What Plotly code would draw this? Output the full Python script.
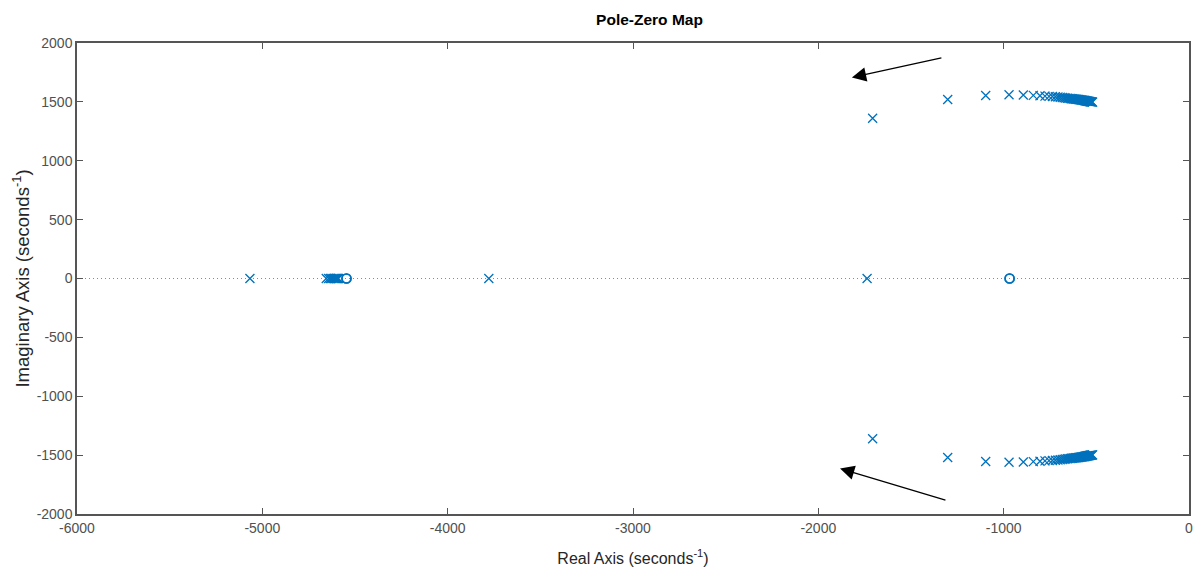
import plotly.graph_objects as go

# Poles (upper half-plane branch; lower branch is the conjugate)
pole_branch_re = [-1707, -1302, -1097, -971, -894, -840, -804, -777, -755, -737,
                  -721, -707, -695, -684, -674, -665, -656, -648, -641, -634,
                  -628, -622, -616, -611, -606, -601, -596, -592, -588, -584,
                  -580, -576, -572, -568, -565, -562, -559, -556, -553, -550,
                  -547, -544, -541, -538, -535, -532, -529, -526, -523, -520]
pole_branch_im = [1361, 1520, 1554, 1560, 1558, 1555, 1552, 1549, 1547, 1545,
                  1543, 1541, 1539, 1537, 1535, 1533, 1531, 1530, 1528, 1527,
                  1526, 1525, 1524, 1523, 1522, 1521, 1520, 1519, 1518, 1517,
                  1516, 1515, 1514, 1513, 1512, 1511, 1510, 1509, 1508, 1507,
                  1506, 1505, 1504, 1503, 1502, 1501, 1500, 1500, 1499, 1498]
# Real-axis poles
pole_real = [-5067, -4655, -4642, -4633, -4625, -4618, -4612, -4606, -4601,
             -4597, -4593, -4589, -3778, -1737]
# Zeros
zero_re = [-4546, -4546, -968, -968]
zero_im = [0, 0, 0, 0]

x_ticks = [-6000, -5000, -4000, -3000, -2000, -1000, 0]
x_ticklabels = ["-6000", "-5000", "-4000", "-3000", "-2000", "-1000", "0"]
y_ticks = [-2000, -1500, -1000, -500, 0, 500, 1000, 1500, 2000]
y_ticklabels = ["-2000", "-1500", "-1000", "-500", "0", "500", "1000", "1500", "2000"]

blue = "#0072BD"

poles_x = pole_branch_re + pole_branch_re + pole_real
poles_y = pole_branch_im + [-v for v in pole_branch_im] + [0] * len(pole_real)

fig = go.Figure()
# dotted real-axis line
fig.add_trace(go.Scatter(x=[x_ticks[0], x_ticks[-1]], y=[0, 0], mode="lines",
                         line=dict(color="#8a8a8a", width=1, dash="1px,3px"),
                         hoverinfo="skip", showlegend=False))
fig.add_trace(go.Scatter(x=poles_x, y=poles_y, mode="markers",
                         marker=dict(symbol="x-thin-open", size=9,
                                     line=dict(color=blue, width=1.3), color=blue),
                         showlegend=False))
fig.add_trace(go.Scatter(x=zero_re, y=zero_im, mode="markers",
                         marker=dict(symbol="circle-open", size=9,
                                     line=dict(color=blue, width=1.6), color=blue),
                         showlegend=False))

# arrows
fig.add_annotation(x=-1819, y=1707, ax=-1328, ay=1877, xref="x", yref="y",
                   axref="x", ayref="y", showarrow=True, arrowhead=2,
                   arrowsize=2.2, arrowwidth=1.3, arrowcolor="black", text="")
fig.add_annotation(x=-1883, y=-1614, ax=-1306, ay=-1885, xref="x", yref="y",
                   axref="x", ayref="y", showarrow=True, arrowhead=2,
                   arrowsize=2.2, arrowwidth=1.3, arrowcolor="black", text="")

font_family = "Liberation Sans, Arial"
axis_common = dict(showline=True, mirror="allticks", linecolor="#555555",
                   linewidth=1.5, ticks="inside", ticklen=6, tickwidth=1,
                   tickcolor="#555555", showgrid=False, zeroline=False,
                   automargin=False,
                   tickfont=dict(family=font_family, size=14, color="#505050"))

fig.update_xaxes(range=[x_ticks[0], x_ticks[-1]], tickvals=x_ticks, ticktext=x_ticklabels,
                 title=dict(text="Real Axis (seconds<sup>-1</sup>)", standoff=18,
                            font=dict(family=font_family, size=16, color="#262626")),
                 **axis_common)
fig.update_yaxes(range=[y_ticks[0], y_ticks[-1]], tickvals=y_ticks, ticktext=y_ticklabels,
                 title=dict(text="Imaginary Axis (seconds<sup>-1</sup>)", standoff=2,
                            font=dict(family=font_family, size=18.5, color="#262626")),
                 **axis_common)

fig.update_layout(
    width=1198, height=571,
    margin=dict(l=77, r=9, t=43, b=57),
    paper_bgcolor="white", plot_bgcolor="white",
    title=dict(text="<b>Pole-Zero Map</b>", x=649.5 / 1198, xanchor="center",
               y=1 - 20 / 571, yanchor="middle",
               font=dict(family=font_family, size=15.5, color="#000000")),
)

fig.write_html("out.html", config={"displayModeBar": False},
               post_script="document.body.style.margin='0px';")
